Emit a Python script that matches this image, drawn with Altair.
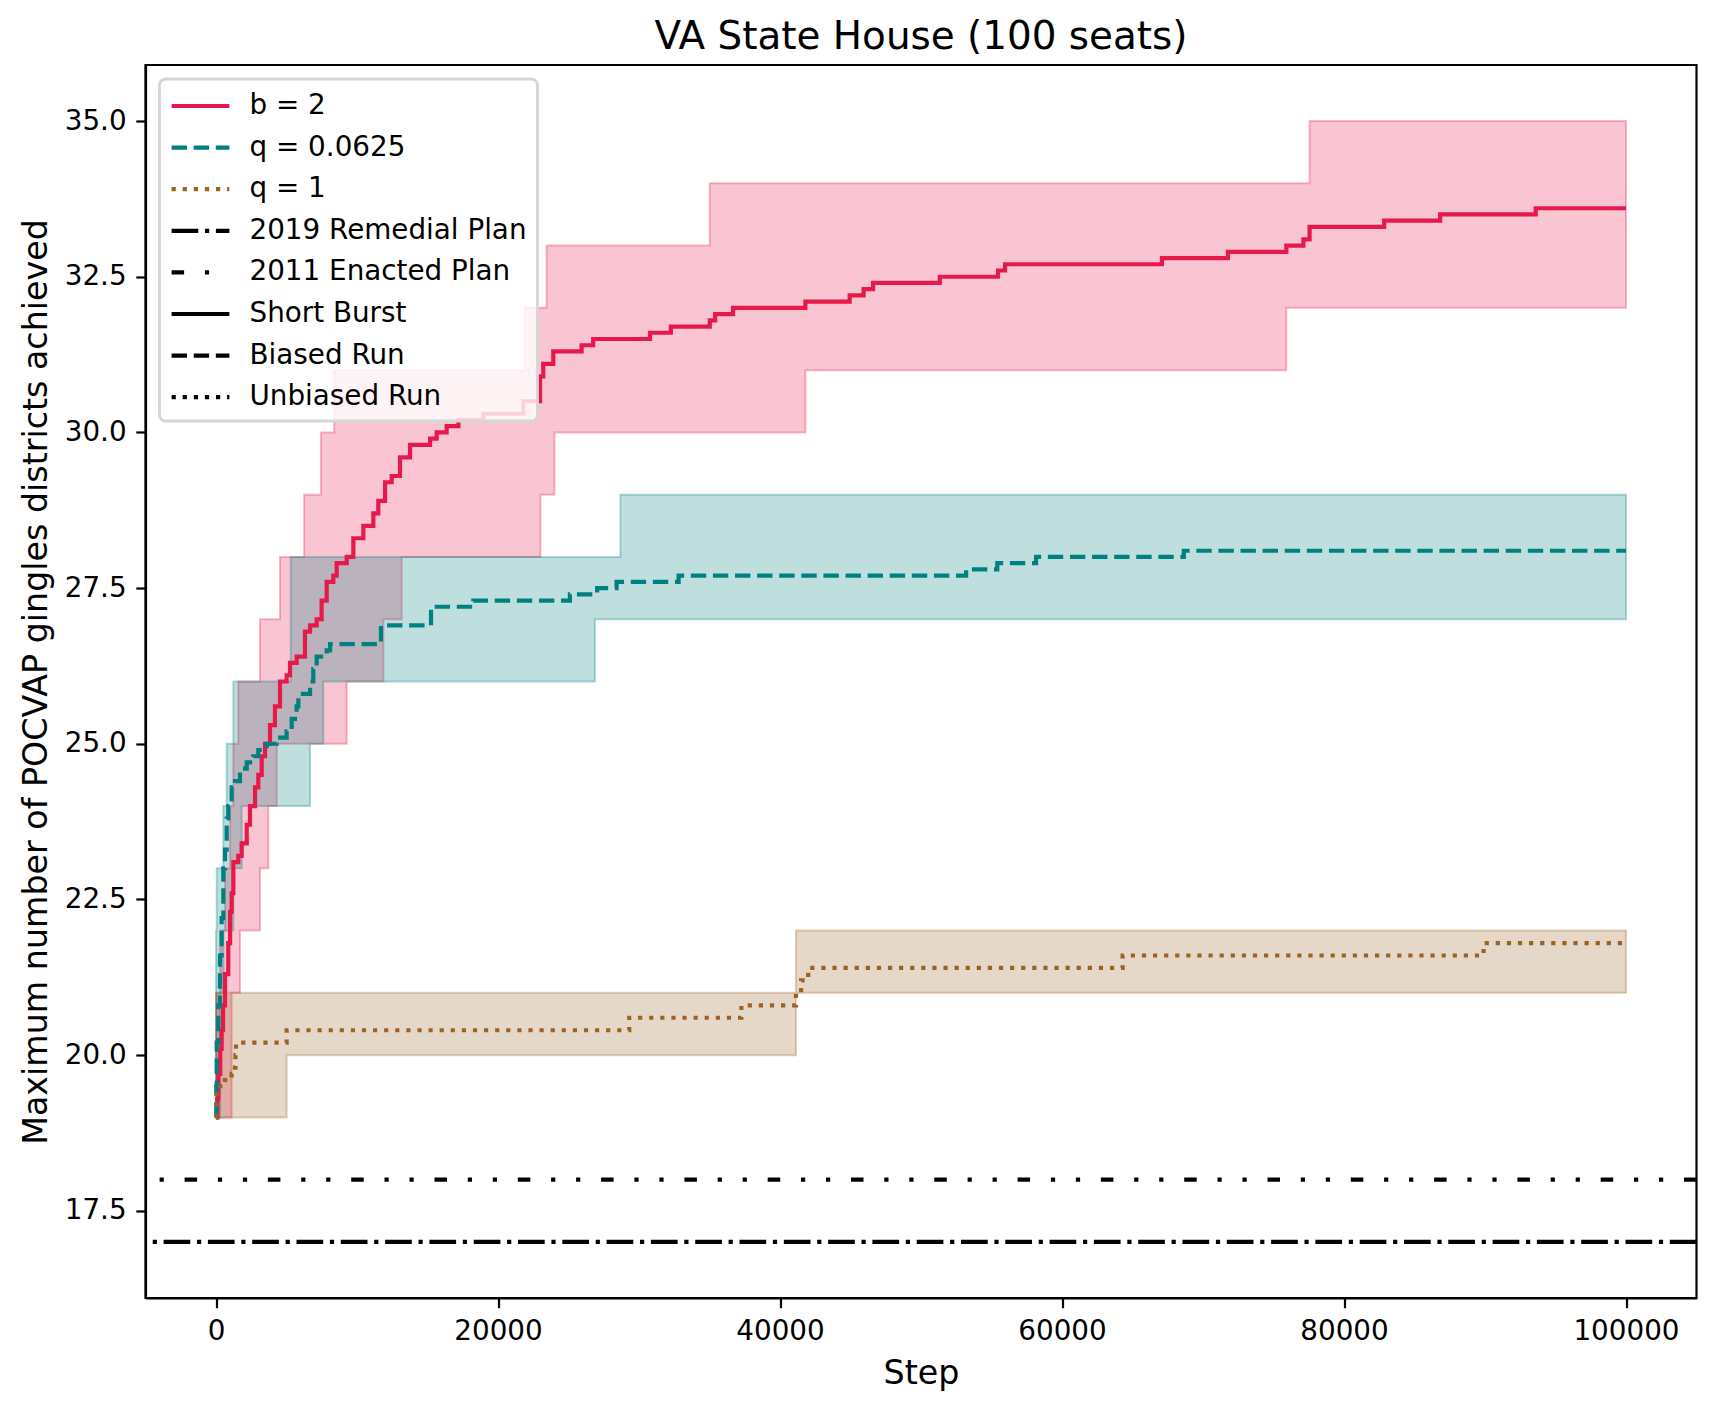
import altair as alt
import numpy as np
import pandas as pd

# ---------------- text ----------------
TITLE = "VA State House (100 seats)"
X_TITLE = "Step"
Y_TITLE = "Maximum number of POCVAP gingles districts achieved"

series_names = ["b = 2", "q = 0.0625", "q = 1", "2019 Remedial Plan",
                "2011 Enacted Plan", "Short Burst", "Biased Run", "Unbiased Run"]

x_ticks = [0, 20000, 40000, 60000, 80000, 100000]
y_ticks = [17.5, 20.0, 22.5, 25.0, 27.5, 30.0, 32.5, 35.0]

# ---------------- mean lines (step, value) ----------------
b2_steps = [0, 100, 160, 300, 400, 500, 640, 870, 1000, 1110, 1230, 1580, 1820, 2180,
            2410, 2770, 3000, 3240, 3480, 3830, 4180, 4540, 5010, 5250, 5720, 6310,
            6670, 7140, 7490, 7850, 8320, 8560, 9270, 9740, 10450, 11160, 11510, 11990,
            12460, 13050, 13760, 15180, 15650, 16360, 17190, 18960, 21800, 22980, 23210,
            23920, 25930, 26750, 30780, 32260, 35020, 35400, 36670, 41800, 44940, 45930,
            46600, 51330, 55460, 55960, 67090, 71770, 75910, 77120, 77560, 82850, 86820,
            93600, 100000]
b2_vals = [19.0, 19.3, 19.7, 20.1, 20.4, 20.8, 21.3, 21.8, 22.3, 22.6, 23.1, 23.2, 23.4, 23.7,
           24.0, 24.3, 24.5, 24.8, 25.0, 25.3, 25.6, 26.0, 26.1, 26.3, 26.4, 26.8,
           26.9, 27.0, 27.3, 27.6, 27.7, 27.9, 28.0, 28.3, 28.5, 28.7, 28.9, 29.2,
           29.3, 29.6, 29.8, 29.9, 30.0, 30.1, 30.2, 30.3, 30.5, 30.9, 31.1,
           31.3, 31.4, 31.5, 31.6, 31.7, 31.8, 31.9, 32.0, 32.1, 32.2, 32.3,
           32.4, 32.5, 32.6, 32.7, 32.8, 32.9, 33.0, 33.1, 33.3, 33.4, 33.5,
           33.6, 33.6]

q0625_steps = [0, 20, 50, 160, 280, 400, 520, 640, 760, 870, 1110, 1350, 1700, 2180,
               2650, 3000, 3600, 4300, 5010, 5370, 5600, 5720, 5840, 6670, 6900, 7140,
               7850, 8090, 11700, 15250, 18250, 25100, 27030, 28410, 32810, 53200,
               55410, 58160, 68640, 100000]
q0625_vals = [19.0, 19.5, 20.2, 20.8, 21.6, 22.2, 23.0, 23.3, 23.8, 24.0, 24.3, 24.4, 24.6, 24.7,
              24.8, 24.9, 25.0, 25.1, 25.2, 25.4, 25.5, 25.6, 25.8, 26.0, 26.2, 26.4,
              26.5, 26.6, 26.9, 27.2, 27.3, 27.4, 27.5, 27.6, 27.7, 27.8,
              27.9, 28.0, 28.1, 28.1]

q1_steps = [0, 30, 60, 640, 1110, 1350, 1380, 1420, 5010, 29310, 37260, 41130, 41500,
            42000, 64300, 89900, 100000]
q1_vals = [19.0, 19.2, 19.5, 19.6, 19.7, 19.8, 20.0, 20.2, 20.4, 20.6, 20.8, 21.0, 21.2,
           21.4, 21.6, 21.8, 21.8]

# ---------------- min / max bands ----------------
b2_upper_steps = [0, 300, 640, 1000, 1230, 1580, 3120, 4540, 6250, 7440, 8380, 21900, 23450, 35020, 77560]
b2_upper_vals = [21, 22, 23, 24, 25, 26, 27, 28, 29, 30, 31, 32, 33, 34, 35]
b2_lower_steps = [0, 1110, 1700, 3120, 3710, 4310, 9270, 11870, 13170, 23010, 24000, 41800, 75910]
b2_lower_vals = [19, 21, 22, 23, 24, 25, 26, 27, 28, 29, 30, 31, 32]

q0625_upper_steps = [0, 50, 520, 760, 1230, 5300, 28680]
q0625_upper_vals = [22, 23, 24, 25, 26, 28, 29]
q0625_lower_steps = [0, 300, 520, 1230, 1820, 6670, 7610, 26870]
q0625_lower_vals = [19, 21, 22, 23, 24, 25, 26, 27]

q1_upper_steps = [0, 41130]
q1_upper_vals = [21, 22]
q1_lower_steps = [0, 5010, 41130]
q1_lower_vals = [19, 20, 21]

LAST_STEP = 100000

# ---------------- reference plans ----------------
plan_names = ["2019 Remedial Plan", "2011 Enacted Plan"]
plan_values = [17, 18]

# ---------------- styles ----------------
series_colors = ["#e6194b", "#008080", "#9a6324", "black", "black", "black", "black", "black"]
series_dashes = [[1, 0], [15.4, 6.7], [4.2, 6.9], [26.7, 6.7, 4.2, 6.7],
                 [12.5, 20.8, 4.2, 20.8, 4.2, 20.8], [1, 0], [15.4, 6.7], [4.2, 6.9]]
FONT = "DejaVu Sans"


def step_eval(steps, vals, x):
    i = int(np.searchsorted(np.asarray(steps), x, side="right")) - 1
    return vals[i]


def band_frame(ls, lv, us, uv):
    xs = sorted(set(ls) | set(us) | {LAST_STEP})
    return pd.DataFrame({
        "step": xs,
        "lo": [step_eval(ls, lv, x) for x in xs],
        "hi": [step_eval(us, uv, x) for x in xs],
    })


band_b2 = band_frame(b2_lower_steps, b2_lower_vals, b2_upper_steps, b2_upper_vals)
band_q0625 = band_frame(q0625_lower_steps, q0625_lower_vals, q0625_upper_steps, q0625_upper_vals)
band_q1 = band_frame(q1_lower_steps, q1_lower_vals, q1_upper_steps, q1_upper_vals)

lines_df = pd.concat([
    pd.DataFrame({"step": b2_steps, "value": b2_vals, "series": "b = 2"}),
    pd.DataFrame({"step": q0625_steps, "value": q0625_vals, "series": "q = 0.0625"}),
    pd.DataFrame({"step": q1_steps, "value": q1_vals, "series": "q = 1"}),
], ignore_index=True)

plans_df = pd.DataFrame({"value": plan_values, "series": plan_names})

# ---------------- scales / axes ----------------
xscale = alt.Scale(domain=[-5000, 105000], nice=False, zero=False)
yscale = alt.Scale(domain=[16.1, 35.9], nice=False, zero=False)

xaxis = alt.Axis(values=x_ticks, format="d", title=X_TITLE, grid=False,
                 labelFlush=False, labelOverlap=False, titlePadding=12)
yaxis = alt.Axis(values=y_ticks, format=".1f", title=Y_TITLE, grid=False,
                 labelOverlap=False, titlePadding=11)

legend = alt.Legend(
    title=None, orient="top-left", offset=14, padding=10,
    symbolType="M-2,0H2", symbolSize=835, symbolStrokeWidth=4.2,
    symbolOffset=14, labelOffset=32, labelFontSize=27.8, labelFont=FONT,
    labelColor="black", labelLimit=500, rowPadding=10.6,
    fillColor="rgba(255,255,255,0.8)", strokeColor="#d6d6d6", cornerRadius=6,
)

color_enc = alt.Color("series:N", scale=alt.Scale(domain=series_names, range=series_colors), legend=legend)
dash_enc = alt.StrokeDash("series:N", scale=alt.Scale(domain=series_names, range=series_dashes), legend=legend)


def band_layer(df, col):
    return alt.Chart(df).mark_area(
        interpolate="step-after", fill=col, fillOpacity=0.25,
        stroke=col, strokeOpacity=0.3, strokeWidth=2,
    ).encode(
        x=alt.X("step:Q", scale=xscale, axis=xaxis),
        y=alt.Y("lo:Q", scale=yscale, axis=yaxis),
        y2="hi:Q",
    )


areas = [band_layer(band_b2, series_colors[0]),
         band_layer(band_q0625, series_colors[1]),
         band_layer(band_q1, series_colors[2])]

lines = alt.Chart(lines_df).mark_line(interpolate="step-after", strokeWidth=4.2).encode(
    x=alt.X("step:Q", scale=xscale, axis=xaxis),
    y=alt.Y("value:Q", scale=yscale, axis=yaxis),
    color=color_enc,
    strokeDash=dash_enc,
)

plans = alt.Chart(plans_df).mark_rule(strokeWidth=4.2).encode(
    y=alt.Y("value:Q", scale=yscale, axis=yaxis),
    color=color_enc,
    strokeDash=dash_enc,
)

chart = alt.layer(*areas, lines, plans).properties(
    width=1551, height=1233,
    title=alt.TitleParams(text=TITLE, fontSize=38.9, font=FONT, fontWeight="normal",
                          anchor="middle", offset=8.5, baseline="bottom", dy=39,
                          frame="group", color="black"),
    autosize=alt.AutoSizeParams(type="none"),
    padding={"left": 137.5, "top": 57, "right": 10, "bottom": 104},
).configure(
    font=FONT,
    background="white",
).configure_view(
    stroke="black", strokeWidth=2.2,
).configure_axis(
    labelFont=FONT, labelFontSize=27.8, labelColor="black",
    titleFont=FONT, titleFontSize=33.3, titleFontWeight="normal", titleColor="black",
    domainColor="black", domainWidth=2.2, tickColor="black", tickWidth=2.2,
    tickSize=9.7, labelPadding=9.7,
).configure_legend(
    strokeWidth=2.8,
)

chart.save("out.html", embed_options={"renderer": "svg", "actions": False})
